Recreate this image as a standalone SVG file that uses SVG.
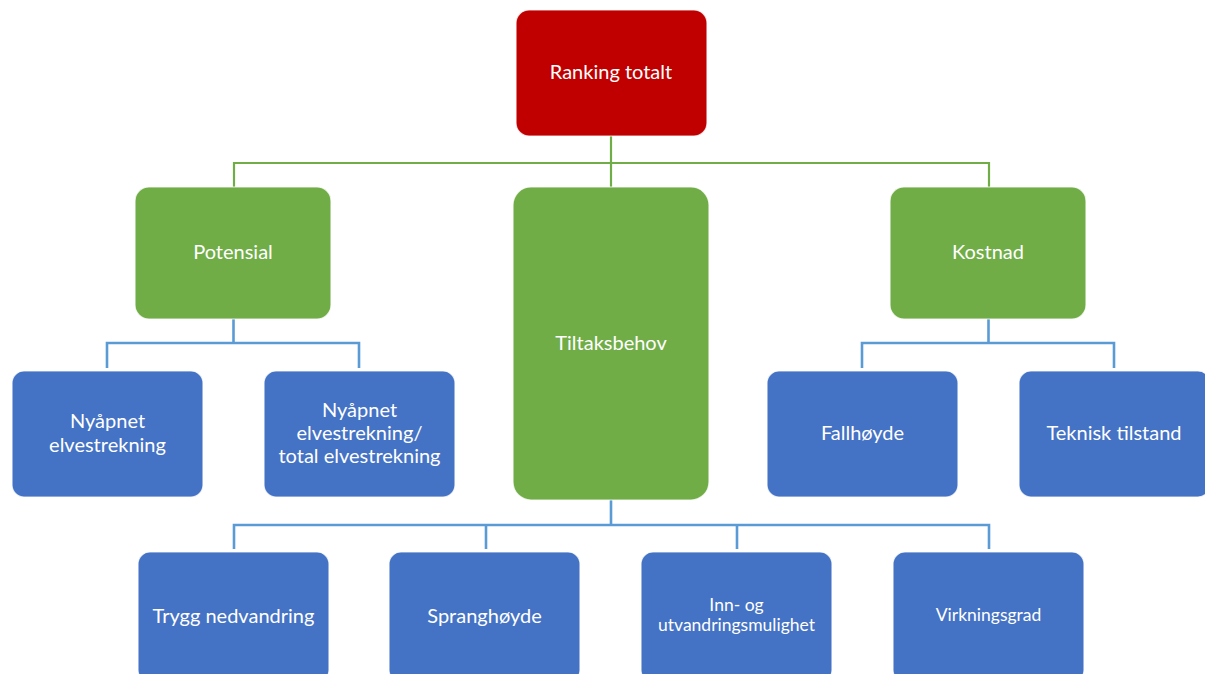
<svg xmlns="http://www.w3.org/2000/svg" width="1205" height="674" viewBox="0 0 1205 674">
<style>
.box{stroke:#ffffff;stroke-width:1.2;stroke-opacity:0.8}
.red{fill:#C00000}
.green{fill:#70AD47}
.blue{fill:#4472C4}
.t{font-family:Lato,"Open Sans","Liberation Sans",sans-serif;font-size:20px;fill:#ffffff;text-anchor:middle}
.s{font-size:17.5px}
.gl{fill:none;stroke:#70AD47;stroke-width:2.2}
.bl{fill:none;stroke:#5B9BD5;stroke-width:2.6}
</style>
<rect width="1205" height="674" fill="#ffffff"/>
<g id="connectors">
<path class="gl" d="M611,135 V187 M234,187 V163 H989 V187"/>
<path class="bl" d="M233.5,319 V343 M107,368 V343 H359 V368"/>
<path class="bl" d="M988.5,319 V343 M862,368 V343 H1114 V368"/>
<path class="bl" d="M611,500 V525 M234,549 V525 H989 V549 M486,525 V549 M737,525 V549"/>
</g>
<g id="ranking"><rect class="box red" x="516" y="10" width="191" height="126" rx="13"/><text class="t" x="611" y="79">Ranking totalt</text></g>
<g id="potensial"><rect class="box green" x="135" y="187" width="196" height="132" rx="14"/><text class="t" x="233" y="259">Potensial</text></g>
<g id="tiltaksbehov"><rect class="box green" x="513" y="187" width="196" height="313" rx="18"/><text class="t" x="611" y="350">Tiltaksbehov</text></g>
<g id="kostnad"><rect class="box green" x="890" y="187" width="196" height="132" rx="14"/><text class="t" x="988" y="259">Kostnad</text></g>
<g id="nyapnet"><rect class="box blue" x="12" y="371" width="191" height="126" rx="12"/><text class="t" x="107.5" y="428">Nyåpnet</text><text class="t" x="107.5" y="452">elvestrekning</text></g>
<g id="nyapnet-total"><rect class="box blue" x="264" y="371" width="191" height="126" rx="12"/><text class="t" x="359.5" y="417">Nyåpnet</text><text class="t" x="359.5" y="440">elvestrekning/</text><text class="t" x="359.5" y="463">total elvestrekning</text></g>
<g id="fallhoyde"><rect class="box blue" x="767" y="371" width="191" height="126" rx="12"/><text class="t" x="862.5" y="440">Fallhøyde</text></g>
<g id="teknisk"><rect class="box blue" x="1019" y="371" width="191" height="126" rx="12"/><text class="t" x="1114" y="440">Teknisk tilstand</text></g>
<g id="trygg"><rect class="box blue" x="138" y="552" width="191" height="130" rx="12"/><text class="t" x="233.5" y="623">Trygg nedvandring</text></g>
<g id="spranghoyde"><rect class="box blue" x="389" y="552" width="191" height="130" rx="12"/><text class="t" x="484.5" y="623">Spranghøyde</text></g>
<g id="inn-og"><rect class="box blue" x="641" y="552" width="191" height="130" rx="12"/><text class="t s" x="736.5" y="611">Inn- og</text><text class="t s" x="736.5" y="631">utvandringsmulighet</text></g>
<g id="virkningsgrad"><rect class="box blue" x="893" y="552" width="191" height="130" rx="12"/><text class="t s" x="988.5" y="621">Virkningsgrad</text></g>
</svg>
